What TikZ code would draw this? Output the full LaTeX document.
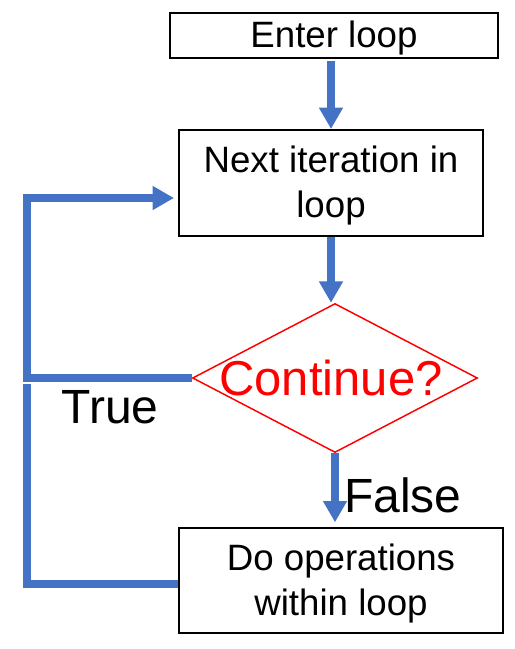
\documentclass[tikz,border=0pt]{standalone}
\usepackage{fontspec}
\setmainfont{Liberation Sans}
\usetikzlibrary{arrows.meta,shapes.geometric}
\definecolor{obblue}{HTML}{4472C4}
\begin{document}
\begin{tikzpicture}[x=0.75pt,y=-0.75pt,
  box/.style={draw=black,line width=1.5pt,inner sep=0pt,align=center,font=\fontsize{27.5}{33.8}\selectfont},
  boxtext/.style={align=center,font=\fontsize{27.5}{33.8}\selectfont,yshift=-2pt},
  blueline/.style={draw=obblue,line width=6pt,line join=miter},
  arr/.style={blueline,-{Triangle[width=17pt,length=16pt]}},
  lbl/.style={font=\fontsize{36}{40}\selectfont,anchor=base}]
\useasboundingbox[fill=white] (0,0) rectangle (514,649);
\node[box,minimum width=246pt,minimum height=33.75pt] (enter) at (334,35.5) {};
\node[boxtext] (entert) at (enter) {Enter loop};
\node[box,minimum width=228pt,minimum height=79.5pt] (nxt) at (331,183) {};
\node[boxtext] (nxtt) at (nxt) {Next iteration in\\loop};
\node[diamond,draw=red,line width=1.1pt,inner sep=0pt,minimum width=213.75pt,minimum height=111.75pt] (dia) at (335,378) {};
\node[text=red,font=\fontsize{36.75}{40}\selectfont] (cont) at (331,378) {Continue?};
\node[box,minimum width=243pt,minimum height=78.75pt] (ops) at (341,580.5) {};
\node[boxtext] (opst) at (ops) {Do operations\\within loop};
\node[lbl] (true) at (110,423) {True};
\node[lbl] (false) at (403,512) {False};
\coordinate (tl) at (27,198);
\coordinate (ml) at (27,378);
\coordinate (bl) at (27,584);
\coordinate (mb) at (27,383.5);
\draw[arr,shorten <=1.5pt] (enter.south -| nxt.north) -- (nxt.north);
\draw[arr] (nxt.south) -- (nxt.south |- dia.north);
\draw[arr,shorten >=3.5pt] (dia.south) -- (dia.south |- ops.north);
\draw[arr,shorten >=3pt] (dia.west) -- (ml) -- (tl) -- (tl -| nxt.west);
\draw[blueline] (bl -| ops.west) -- (bl) -- (mb);
\end{tikzpicture}
\end{document}
